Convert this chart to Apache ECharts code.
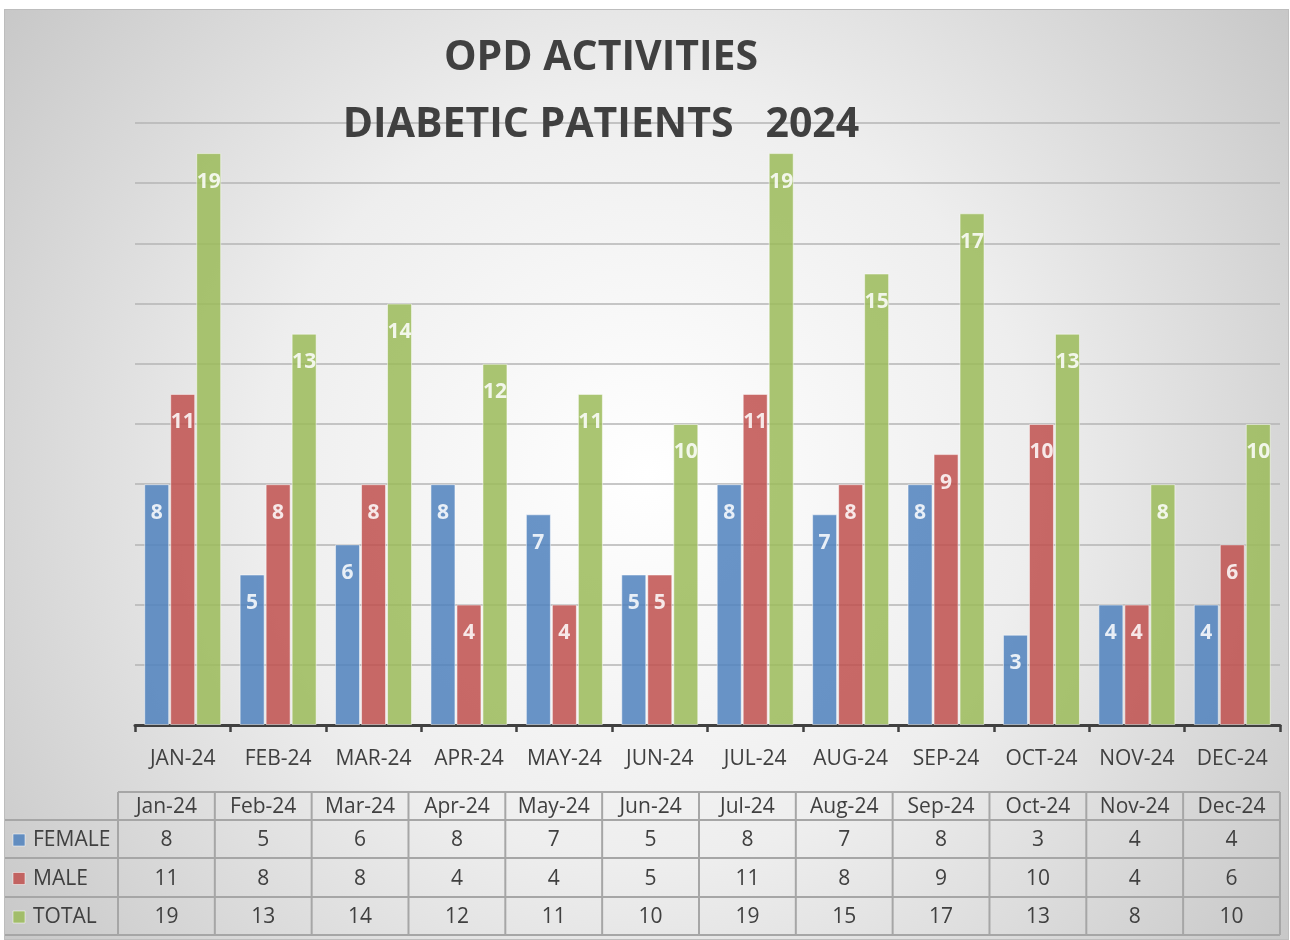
<!DOCTYPE html>
<html>
<head>
<meta charset="utf-8">
<title>OPD Activities - Diabetic Patients 2024</title>
<script src="https://cdn.jsdelivr.net/npm/echarts@6/dist/echarts.min.js"></script>
<style>
  html, body { margin: 0; padding: 0; background: #ffffff; }
  #chart {
    position: absolute;
    left: 4px;
    top: 9px;
    width: 1285px;
    height: 931px;
    box-sizing: border-box;
    border: 1px solid #bdbdbd;
  }
</style>
</head>
<body>
<div id="chart"></div>
<script>
// months (table header) and the three series
const categories = ['Jan-24', 'Feb-24', 'Mar-24', 'Apr-24', 'May-24', 'Jun-24',
  'Jul-24', 'Aug-24', 'Sep-24', 'Oct-24', 'Nov-24', 'Dec-24']
const female = [8, 5, 6, 8, 7, 5, 8, 7, 8, 3, 4, 4]
const male = [11, 8, 8, 4, 4, 5, 11, 8, 9, 10, 4, 6]
const total = [19, 13, 14, 12, 11, 10, 19, 15, 17, 13, 8, 10]
const seriesNames = ['FEMALE', 'MALE', 'TOTAL']
const seriesColors = ['#4f81bd', '#c0504d', '#9bbb59']
const titleLines = ['OPD ACTIVITIES', 'DIABETIC PATIENTS   2024']

const FONT = 'Open Sans'
const TEXT_COLOR = '#404040'
const LINE_COLOR = '#a6a6a6'

const chart = echarts.init(document.getElementById('chart'))

// data table under the axis, built from the arrays above
function buildTable () {
  const els = []
  const x0 = 113 // first month column
  const colW = 96.83
  const xEnd = x0 + colW * categories.length
  const rowY = [782, 810, 848, 887, 925] // header top, then row bottoms
  const rows = [female, male, total]

  const line = (x1, y1, x2, y2) => ({
    type: 'line',
    silent: true,
    shape: { x1, y1, x2, y2 },
    style: { stroke: LINE_COLOR, lineWidth: 2 }
  })
  const text = (str, x, y, align) => ({
    type: 'text',
    silent: true,
    style: {
      text: String(str), x, y: y + 1.5,
      fill: TEXT_COLOR, fontSize: 21, fontFamily: FONT,
      align: align || 'center', verticalAlign: 'middle'
    }
  })

  // horizontal lines
  els.push(line(x0, rowY[0], xEnd, rowY[0]))
  for (let r = 1; r < rowY.length; r++) els.push(line(0, rowY[r], xEnd, rowY[r]))
  // vertical lines
  for (let c = 0; c <= categories.length; c++) {
    const x = x0 + c * colW
    els.push(line(x, rowY[0], x, rowY[4]))
  }

  // header texts
  categories.forEach((m, i) => {
    els.push(text(m, x0 + colW * i + colW / 2, (rowY[0] + rowY[1]) / 2))
  })
  // rows with legend keys
  rows.forEach((vals, r) => {
    const cy = (rowY[r + 1] + rowY[r + 2]) / 2
    els.push({
      type: 'rect',
      silent: true,
      shape: { x: 8, y: cy - 5, width: 12, height: 12 },
      style: { fill: seriesColors[r], opacity: 0.85, stroke: 'rgba(255,255,255,0.6)', lineWidth: 1 }
    })
    els.push(text(seriesNames[r], 28, cy, 'left'))
    vals.forEach((v, i) => {
      els.push(text(v, x0 + colW * i + colW / 2, cy))
    })
  })
  return els
}

const option = {
  backgroundColor: {
    type: 'radial',
    x: 0.5,
    y: 0.5,
    r: 0.92,
    colorStops: [
      { offset: 0, color: '#ffffff' },
      { offset: 0.45, color: '#eeeeee' },
      { offset: 1, color: '#c2c2c2' }
    ]
  },
  animation: false,
  textStyle: { fontFamily: FONT },
  title: titleLines.map((t, i) => ({
    text: t,
    left: 596,
    top: i === 0 ? 48 : 115,
    padding: 0,
    textAlign: 'center',
    textVerticalAlign: 'middle',
    textStyle: {
      fontFamily: FONT,
      fontSize: 41,
      fontWeight: 'bold',
      color: TEXT_COLOR
    }
  })),
  grid: {
    left: 130,
    right: 8,
    top: 113,
    bottom: 214
  },
  xAxis: {
    type: 'category',
    data: categories,
    axisLine: { lineStyle: { color: TEXT_COLOR, width: 3 } },
    axisTick: { show: true, interval: 0, length: 7, lineStyle: { color: TEXT_COLOR, width: 2.5 } },
    axisLabel: {
      interval: 0,
      margin: 24,
      fontSize: 21,
      color: TEXT_COLOR,
      fontFamily: FONT,
      formatter: v => v.toUpperCase()
    }
  },
  yAxis: {
    type: 'value',
    min: 0,
    max: 20,
    interval: 2,
    axisLabel: { show: false },
    axisLine: { show: false },
    axisTick: { show: false },
    splitLine: { lineStyle: { color: '#b4b4b4', width: 1.5 } }
  },
  series: [female, male, total].map((d, i) => ({
    name: seriesNames[i],
    type: 'bar',
    data: d,
    barWidth: 25,
    barGap: '4%',
    itemStyle: {
      color: seriesColors[i],
      opacity: 0.85,
      borderColor: 'rgba(255,255,255,0.6)',
      borderWidth: 1
    },
    label: {
      show: true,
      position: 'insideTop',
      distance: 18,
      color: '#ffffff',
      fontWeight: 'bold',
      fontSize: 21,
      fontFamily: FONT
    }
  })),
  graphic: buildTable()
}

chart.setOption(option)
</script>
</body>
</html>
